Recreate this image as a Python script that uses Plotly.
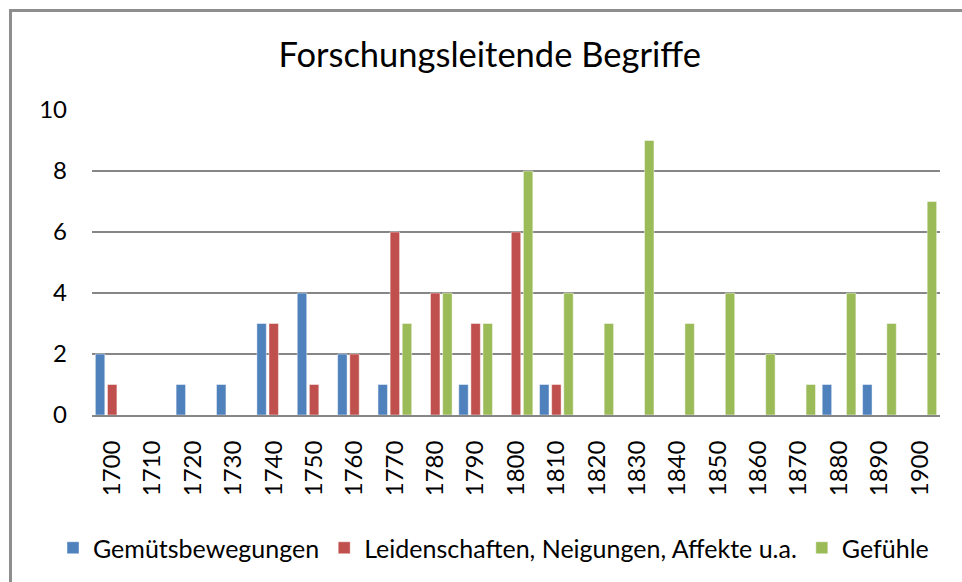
import plotly.graph_objects as go

# decades on the category axis
decades = [str(y) for y in range(1700, 1901, 10)]

gemuetsbewegungen = [2, 0, 1, 1, 3, 4, 2, 1, 0, 1, 0, 1, 0, 0, 0, 0, 0, 0, 1, 1, 0]
leidenschaften    = [1, 0, 0, 0, 3, 1, 2, 6, 4, 3, 6, 1, 0, 0, 0, 0, 0, 0, 0, 0, 0]
gefuehle          = [0, 0, 0, 0, 0, 0, 0, 3, 4, 3, 8, 4, 3, 9, 3, 4, 2, 1, 4, 3, 7]

series_names  = ["Gemütsbewegungen", "Leidenschaften, Neigungen, Affekte u.a.", "Gefühle"]
series_colors = ["#4F81BD", "#C0504D", "#9BBB59"]
y_ticks = [0, 2, 4, 6, 8, 10]

FONT = "Lato, Carlito, 'Open Sans', sans-serif"
W, H = 962, 582
L, R, T, B = 92, 22, 110, 167
pw, ph = W - L - R, H - T - B

fig = go.Figure()
for name, vals, col in zip(series_names, [gemuetsbewegungen, leidenschaften, gefuehle], series_colors):
    fig.add_trace(go.Bar(x=decades, y=vals, name=name,
                         marker=dict(color=col, line=dict(color="rgba(255,255,255,0.45)", width=1))))

fig.update_layout(
    width=W, height=H,
    margin=dict(l=L, r=R, t=T, b=B, autoexpand=False),
    paper_bgcolor="white", plot_bgcolor="white",
    barmode="group", bargap=0.1, bargroupgap=0.22,
    font=dict(family=FONT, color="black"),
    title=dict(text="Forschungsleitende Begriffe", x=0.509, xref="container", xanchor="center",
               y=1 - 55 / H, yref="container", yanchor="middle",
               font=dict(size=34.5, family=FONT, color="black")),
    # legend placed in the bottom margin, left of the plot so it is allowed the full width
    legend=dict(orientation="h", xref="paper", x=(53 - L) / pw, xanchor="left",
                yref="paper", y=-(548 - (H - B)) / ph, yanchor="middle",
                bgcolor="rgba(0,0,0,0)",
                font=dict(size=25, family=FONT, color="black"),
                itemwidth=30, traceorder="normal"),
    showlegend=True,
)
fig.update_xaxes(type="category", tickangle=-90, showgrid=False, ticks="",
                 showline=True, linecolor="#868686", linewidth=2,
                 tickfont=dict(size=24, family=FONT, color="black"),
                 ticklabelstandoff=14, automargin=False)
fig.update_yaxes(range=[0, 10], tickvals=y_ticks, showgrid=True, gridcolor="#868686", gridwidth=1.5,
                 zeroline=False, showline=False, ticks="",
                 tickfont=dict(size=24, family=FONT, color="black"),
                 ticklabelstandoff=24, automargin=False)

# chart area frame (Excel-style border running off the canvas)
fig.add_shape(type="rect", xref="paper", yref="paper",
              x0=(10.5 - L) / pw, x1=(W + 20 - L) / pw,
              y0=-(H + 20 - (H - B)) / ph, y1=(H - B - 10.5) / ph,
              line=dict(color="#8E8E8E", width=3), layer="below")

fig.write_html("out.html", config={"displayModeBar": False},
               post_script="document.body.style.margin='0';")
